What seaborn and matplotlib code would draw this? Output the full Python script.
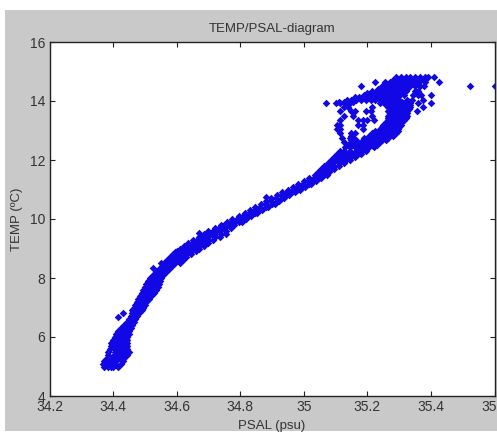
import matplotlib
matplotlib.use("Agg")
import matplotlib.pyplot as plt
import seaborn as sns
import pandas as pd
from matplotlib.patches import Rectangle

x_ticks = [34.2, 34.4, 34.6, 34.8, 35, 35.2, 35.4, 35.6]
y_ticks = [4, 6, 8, 10, 12, 14, 16]

# lower band: rows of temperature with several salinity readings
low_temp = [5.0,5.1,5.2,5.3,5.4,5.5,5.6,5.7,5.8,5.9,6.0,6.1,6.2,6.3,6.4,6.5,6.6,6.7,6.8,6.9,
            7.0,7.1,7.2,7.3,7.4,7.5,7.6,7.7,7.8,7.9,8.0,8.1,8.2,8.3,8.4,8.5,8.6,8.7,8.8,8.9,
            9.0,9.1,9.2,9.3,9.4,9.5,9.6,9.7,9.8,9.9]
low_a = [34.37,34.368,34.37,34.38,34.385,34.385,34.39,34.395,34.395,34.40,34.405,34.41,34.415,34.425,34.435,34.445,34.45,34.455,34.458,34.46,
         34.465,34.47,34.475,34.48,34.485,34.49,34.495,34.50,34.505,34.51,34.515,34.525,34.535,34.545,34.553,34.56,34.57,34.58,34.59,34.60,
         34.61,34.623,34.637,34.653,34.67,34.685,34.70,34.72,34.74,34.757]
low_b = [34.383,34.384,34.385,34.396,34.403,34.405,34.407,34.41,34.41,34.413,34.417,34.422,34.425,34.433,34.442,34.45,34.455,34.46,34.463,34.468,
         34.473,34.478,34.483,34.49,34.495,34.502,34.507,34.512,34.517,34.52,34.525,34.533,34.543,34.552,34.56,34.57,34.58,34.59,34.60,34.612,
         34.623,34.637,34.65,34.665,34.68,34.70,34.715,34.732,34.75,34.77]
low_c = [34.40,34.407,34.41,34.418,34.427,34.43,34.43,34.43,34.43,34.432,34.433,34.438,34.44,34.447,34.453,34.46,34.465,34.47,34.475,34.482,
         34.487,34.492,34.497,34.503,34.51,34.518,34.523,34.528,34.533,34.537,34.54,34.547,34.555,34.565,34.573,34.585,34.595,34.605,34.617,34.63,
         34.642,34.656,34.67,34.685,34.70,34.72,34.735,34.75,34.768,34.785]
low_d = [34.415,34.425,34.43,34.435,34.445,34.45,34.445,34.445,34.445,34.445,34.445,34.45,34.45,34.455,34.46,34.465,34.47,34.475,34.483,34.49,
         34.495,34.50,34.505,34.512,34.52,34.53,34.535,34.54,34.545,34.548,34.55,34.558,34.565,34.575,34.585,34.595,34.605,34.615,34.63,34.645,
         34.655,34.67,34.685,34.70,34.72,34.74,34.755,34.77,34.78,34.795]
low_e = [34.392,34.396,34.398,34.407,34.415,34.418,34.418,34.42,34.42,34.422,34.425,34.43,34.432,34.44,34.447,34.455,34.46,34.465,34.469,34.475,
         34.48,34.485,34.49,34.497,34.503,34.51,34.515,34.52,34.525,34.528,34.532,34.54,34.549,34.558,34.566,34.577,34.587,34.597,34.608,34.621,
         34.632,34.646,34.66,34.675,34.69,34.71,34.725,34.741,34.759,34.777]

# right edge of the band where it widens
edge_temp = [8.5,8.6,8.7,8.8,8.9,9.0,9.1,9.2,9.3,9.4,9.5]
edge_psal = [34.61,34.62,34.63,34.645,34.66,34.67,34.685,34.70,34.715,34.735,34.755]

# middle band
mid_temp = [10.0,10.1,10.2,10.3,10.4,10.5,10.6,10.7,10.8,10.9,11.0,11.1,11.2,11.3,11.4,11.5]
mid_a = [34.775,34.795,34.815,34.83,34.845,34.865,34.88,34.897,34.915,34.93,34.95,34.965,34.983,35.0,35.017,35.035]
mid_b = [34.79,34.81,34.83,34.845,34.862,34.88,34.897,34.913,34.93,34.947,34.965,34.98,34.998,35.013,35.032,35.05]
mid_c = [34.81,34.825,34.845,34.86,34.88,34.90,34.915,34.93,34.945,34.963,34.98,34.995,35.015,35.03,35.047,35.065]
mid_d = [34.818,34.833,34.853,34.868,34.888,34.908,34.923,34.938,34.953,34.971,34.988,35.003,35.023,35.038,35.055,35.073]

# upper cloud: one salinity list per temperature row
upper_temp = [11.6,11.7,11.8,11.9,12.0,12.1,12.2,12.3,12.45,12.6,12.75,12.9,13.05,13.2,13.35,13.5,13.65,13.8,13.92,14.05,14.2,14.35,14.5,14.65,14.8]
upper_psal = [
 [35.045,35.06,35.08],
 [35.055,35.068,35.086,35.095],
 [35.065,35.078,35.096,35.11],
 [35.075,35.09,35.11,35.125],
 [35.085,35.098,35.116,35.134,35.145],
 [35.095,35.108,35.126,35.144,35.16],
 [35.105,35.118,35.136,35.154,35.172,35.18],
 [35.115,35.128,35.146,35.164,35.182,35.195],
 [35.13,35.145,35.16,35.175,35.19,35.205,35.22],
 [35.125,35.15,35.165,35.18,35.195,35.21,35.225,35.24],
 [35.12,35.145,35.155,35.19,35.205,35.22,35.235,35.25,35.265],
 [35.115,35.15,35.16,35.215,35.23,35.245,35.26,35.275,35.29],
 [35.105,35.115,35.185,35.24,35.255,35.27,35.285,35.295],
 [35.105,35.115,35.17,35.185,35.25,35.265,35.28,35.295,35.305],
 [35.115,35.17,35.185,35.20,35.22,35.265,35.28,35.295,35.315],
 [35.125,35.155,35.215,35.265,35.28,35.295,35.31,35.325],
 [35.115,35.15,35.16,35.195,35.21,35.265,35.28,35.295,35.31,35.325,35.355],
 [35.125,35.14,35.215,35.265,35.28,35.295,35.31,35.335,35.375],
 [35.07,35.10,35.115,35.13,35.145,35.24,35.255,35.27,35.285,35.30,35.32,35.335,35.36,35.40],
 [35.135,35.15,35.165,35.18,35.195,35.21,35.225,35.24,35.255,35.27,35.285,35.30,35.325,35.34,35.375],
 [35.19,35.205,35.22,35.235,35.25,35.265,35.28,35.295,35.314,35.345,35.36,35.37,35.40],
 [35.214,35.23,35.245,35.26,35.275,35.29,35.305,35.32,35.35,35.36],
 [35.18,35.246,35.26,35.275,35.29,35.305,35.32,35.335,35.35,35.365,35.377,35.524,35.60],
 [35.225,35.256,35.27,35.285,35.30,35.315,35.33,35.345,35.36,35.38,35.425],
 [35.29,35.305,35.32,35.335,35.35,35.365,35.38,35.39,35.41],
]

# extra rows between the cloud rows where it reads as solid
fill_temp = [12.52,12.68,12.82,12.98,13.12,13.28,13.42,13.58,13.72,13.86,13.98,14.12,14.27,14.42,14.57,14.72]
fill_psal = [
 [35.14,35.155,35.17,35.185,35.20,35.215,35.23],
 [35.15,35.165,35.20,35.215,35.23,35.245,35.26],
 [35.15,35.205,35.22,35.235,35.25,35.265,35.28],
 [35.225,35.24,35.255,35.27,35.285,35.295],
 [35.245,35.26,35.275,35.29,35.30],
 [35.26,35.272,35.288,35.30,35.31],
 [35.265,35.275,35.29,35.305,35.32],
 [35.27,35.285,35.30,35.315,35.325],
 [35.27,35.285,35.30,35.315,35.33],
 [35.258,35.272,35.29,35.305,35.32,35.335],
 [35.11,35.125,35.14,35.155,35.25,35.265,35.28,35.295,35.31,35.33],
 [35.16,35.175,35.19,35.205,35.22,35.235,35.25,35.265,35.28,35.295],
 [35.20,35.215,35.23,35.245,35.26,35.275,35.29,35.305],
 [35.235,35.25,35.265,35.28,35.295,35.31,35.325],
 [35.255,35.27,35.285,35.30,35.315,35.33,35.345,35.36],
 [35.28,35.295,35.31,35.325,35.34,35.355,35.37,35.38],
]

# isolated points
stray_psal = [34.417,34.43,34.526,34.551,34.596,34.67,34.806,34.88]
stray_temp = [6.68,6.82,8.33,8.5,8.89,9.51,9.9,10.75]

psal, temp = [], []
for t, a, b, c, d, e in zip(low_temp, low_a, low_b, low_c, low_d, low_e):
    psal += [a, b, c, d, e]; temp += [t] * 5
for t, a, b, c, d in zip(mid_temp, mid_a, mid_b, mid_c, mid_d):
    psal += [a, b, c, d]; temp += [t] * 4
for t, row in zip(upper_temp, upper_psal):
    psal += row; temp += [t] * len(row)
for t, row in zip(fill_temp, fill_psal):
    psal += row; temp += [t] * len(row)
psal += edge_psal + stray_psal; temp += edge_temp + stray_temp
df = pd.DataFrame({"PSAL": psal, "TEMP": temp})

sns.set_theme(style="white")
plt.rcParams["font.family"] = ["Liberation Sans", "DejaVu Sans"]
W, H = 497, 433
fig = plt.figure(figsize=(W / 100, H / 100), dpi=100, facecolor="white")
fig.add_artist(Rectangle((5 / W, 1 - 431 / H), 492 / W, 421 / H, transform=fig.transFigure,
                         facecolor="#c9c9c9", edgecolor="none", zorder=-5))
ax = fig.add_axes([49.5 / W, 1 - 396 / H, 445 / W, 354 / H], facecolor="white")
sns.scatterplot(data=df, x="PSAL", y="TEMP", ax=ax, marker="D", s=15, color="#1208e6",
                linewidth=0, clip_on=True, legend=False)
ax.set_xlim(34.2, 35.6)
ax.set_ylim(4, 16)
ax.set_xticks(x_ticks)
ax.set_xticklabels(["34.2", "34.4", "34.6", "34.8", "35", "35.2", "35.4", "35.6"])
ax.set_yticks(y_ticks)
ax.tick_params(direction="in", length=3.5, width=0.8, color="#222222", labelcolor="#333333",
               labelsize=10, top=True, right=True, bottom=True, left=True, pad=3)
for s in ax.spines.values():
    s.set_visible(True)
    s.set_color("#222222")
    s.set_linewidth(1.0)
ax.set_title("TEMP/PSAL-diagram", fontsize=9.5, color="#333333", pad=7)
ax.set_xlabel("PSAL (psu)", fontsize=9.5, color="#333333", labelpad=4)
ax.set_ylabel("TEMP (ºC)", fontsize=9.5, color="#333333", labelpad=5)
fig.savefig("out.png", dpi=100, facecolor="white")
